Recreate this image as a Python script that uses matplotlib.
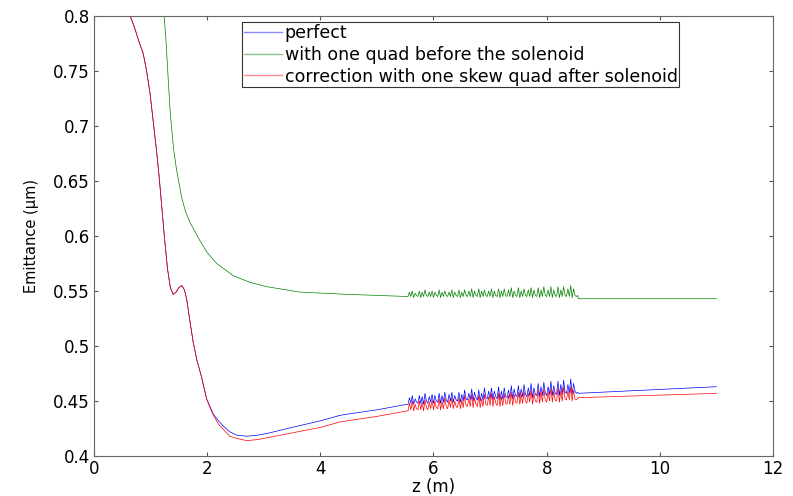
import matplotlib
matplotlib.use('Agg')
import matplotlib.pyplot as plt
import numpy as np

plt.rcParams['font.family'] = ['DejaVu Sans']

# smooth parts (z in m, emittance in um)
blue_z = [0.64, 0.72, 0.80, 0.87, 0.93, 0.99, 1.05, 1.10, 1.15, 1.20, 1.25, 1.30, 1.35, 1.40, 1.45,
          1.50, 1.55, 1.60, 1.64, 1.70, 1.755, 1.82, 1.90, 1.99, 2.05, 2.11, 2.20, 2.29, 2.40, 2.52,
          2.70, 2.90, 3.10, 3.50, 4.00, 4.35, 4.47, 5.00, 5.53]
blue_e = [0.800, 0.789, 0.776, 0.766, 0.750, 0.730, 0.703, 0.680, 0.655, 0.626, 0.596, 0.570, 0.553, 0.547, 0.549,
          0.553, 0.555, 0.551, 0.542, 0.521, 0.503, 0.487, 0.472, 0.452, 0.445, 0.438, 0.432, 0.427, 0.422, 0.419,
          0.418, 0.419, 0.421, 0.426, 0.432, 0.437, 0.438, 0.442, 0.447]
red_z = blue_z
red_e = [0.800, 0.789, 0.776, 0.766, 0.750, 0.730, 0.703, 0.680, 0.655, 0.626, 0.596, 0.570, 0.553, 0.547, 0.549,
         0.553, 0.555, 0.551, 0.542, 0.521, 0.503, 0.487, 0.472, 0.452, 0.444, 0.437, 0.429, 0.424, 0.418, 0.416,
         0.414, 0.415, 0.417, 0.421, 0.426, 0.431, 0.432, 0.436, 0.441]
green_z = [1.24, 1.27, 1.31, 1.34, 1.37, 1.41, 1.46, 1.55, 1.62, 1.70, 1.87, 2.00, 2.17, 2.46, 2.75,
           3.05, 3.64, 4.47, 5.53]
green_e = [0.800, 0.780, 0.745, 0.718, 0.699, 0.678, 0.660, 0.635, 0.622, 0.612, 0.596, 0.585, 0.575, 0.564, 0.558,
           0.554, 0.549, 0.547, 0.545]

# noisy section 5.55 .. 8.55 m, sampled every 0.025 m (one row per bunch of spikes)
noise_z = np.round(np.arange(5.55, 8.551, 0.025), 3)
blue_noise = [
    0.447, 0.453, 0.448, 0.455, 0.447, 0.452, 0.449,
    0.448, 0.455, 0.448, 0.454, 0.447, 0.457, 0.450,
    0.448, 0.454, 0.449, 0.456, 0.448, 0.455, 0.450,
    0.449, 0.457, 0.448, 0.455, 0.449, 0.458, 0.451,
    0.449, 0.456, 0.450, 0.458, 0.449, 0.455, 0.451,
    0.450, 0.458, 0.449, 0.456, 0.450, 0.460, 0.452,
    0.451, 0.457, 0.451, 0.461, 0.450, 0.458, 0.453,
    0.451, 0.460, 0.450, 0.457, 0.451, 0.462, 0.453,
    0.452, 0.459, 0.452, 0.462, 0.451, 0.459, 0.454,
    0.452, 0.463, 0.451, 0.459, 0.452, 0.462, 0.454,
    0.453, 0.460, 0.453, 0.464, 0.452, 0.461, 0.455,
    0.454, 0.464, 0.453, 0.461, 0.454, 0.465, 0.456,
    0.454, 0.462, 0.455, 0.466, 0.453, 0.462, 0.456,
    0.455, 0.466, 0.454, 0.463, 0.455, 0.467, 0.457,
    0.455, 0.463, 0.456, 0.468, 0.455, 0.464, 0.457,
    0.456, 0.468, 0.455, 0.465, 0.456, 0.469, 0.458,
    0.457, 0.465, 0.457, 0.470, 0.456, 0.466, 0.459,
    0.457, 0.458]
red_noise = [
    0.441, 0.448, 0.442, 0.450, 0.441, 0.447, 0.443,
    0.442, 0.450, 0.442, 0.449, 0.441, 0.451, 0.444,
    0.442, 0.449, 0.443, 0.451, 0.442, 0.450, 0.444,
    0.443, 0.452, 0.442, 0.450, 0.443, 0.453, 0.445,
    0.443, 0.451, 0.444, 0.453, 0.443, 0.450, 0.445,
    0.444, 0.453, 0.443, 0.451, 0.444, 0.455, 0.446,
    0.445, 0.452, 0.445, 0.456, 0.444, 0.453, 0.447,
    0.445, 0.455, 0.444, 0.452, 0.445, 0.456, 0.447,
    0.446, 0.454, 0.446, 0.457, 0.445, 0.454, 0.448,
    0.446, 0.457, 0.445, 0.454, 0.446, 0.457, 0.448,
    0.447, 0.455, 0.447, 0.458, 0.446, 0.456, 0.449,
    0.448, 0.458, 0.447, 0.456, 0.448, 0.459, 0.450,
    0.448, 0.457, 0.449, 0.460, 0.447, 0.457, 0.450,
    0.449, 0.460, 0.448, 0.458, 0.449, 0.461, 0.451,
    0.449, 0.458, 0.450, 0.462, 0.449, 0.459, 0.451,
    0.450, 0.462, 0.449, 0.459, 0.450, 0.463, 0.452,
    0.451, 0.459, 0.451, 0.463, 0.450, 0.460, 0.452,
    0.451, 0.452]
green_noise = [
    0.545, 0.549, 0.545, 0.550, 0.544, 0.548, 0.546,
    0.545, 0.550, 0.544, 0.549, 0.545, 0.551, 0.546,
    0.545, 0.549, 0.545, 0.550, 0.544, 0.549, 0.546,
    0.545, 0.551, 0.544, 0.549, 0.545, 0.550, 0.546,
    0.545, 0.549, 0.545, 0.551, 0.544, 0.549, 0.546,
    0.545, 0.551, 0.544, 0.549, 0.545, 0.551, 0.546,
    0.545, 0.550, 0.545, 0.552, 0.544, 0.550, 0.546,
    0.545, 0.552, 0.544, 0.550, 0.545, 0.551, 0.546,
    0.545, 0.550, 0.545, 0.552, 0.544, 0.550, 0.546,
    0.545, 0.552, 0.544, 0.550, 0.545, 0.552, 0.546,
    0.545, 0.551, 0.545, 0.553, 0.544, 0.550, 0.546,
    0.545, 0.553, 0.544, 0.550, 0.545, 0.552, 0.546,
    0.545, 0.551, 0.545, 0.553, 0.544, 0.551, 0.546,
    0.545, 0.553, 0.544, 0.551, 0.545, 0.554, 0.546,
    0.545, 0.551, 0.545, 0.554, 0.544, 0.551, 0.546,
    0.545, 0.554, 0.544, 0.551, 0.545, 0.554, 0.546,
    0.545, 0.552, 0.545, 0.555, 0.544, 0.552, 0.546,
    0.545, 0.546]

# tails after the noisy section
tail_z = [8.56, 11.0]
blue_tail = [0.457, 0.463]
red_tail = [0.453, 0.457]
green_tail = [0.543, 0.543]

labels = ['perfect', 'with one quad before the solenoid',
          'correction with one skew quad after solenoid']


def series(z, e, noise, tail):
    return (np.concatenate([z, noise_z, tail_z]),
            np.concatenate([e, noise, tail]))


fig = plt.figure(figsize=(7.93, 4.96), dpi=100)
ax = fig.add_axes([0.1185, 0.0806, 0.8563, 0.8871])

bz, be = series(blue_z, blue_e, blue_noise, blue_tail)
gz, ge = series(green_z, green_e, green_noise, green_tail)
rz, re = series(red_z, red_e, red_noise, red_tail)
ax.plot(bz, be, color='#0000ff', lw=0.5, label=labels[0])
ax.plot(gz, ge, color='#008000', lw=0.5, label=labels[1])
ax.plot(rz, re, color='#ff0000', lw=0.5, label=labels[2])

ax.set_xlim(0, 12)
ax.set_ylim(0.4, 0.8)
ax.set_xticks(range(0, 13, 2))
yt = [0.4, 0.45, 0.5, 0.55, 0.6, 0.65, 0.7, 0.75, 0.8]
ax.set_yticks(yt)
ax.set_yticklabels([('%g' % v) for v in yt])
ax.tick_params(direction='in', top=True, right=True, length=3, labelsize=12,
               color='#555555', pad=3)
for s in ax.spines.values():
    s.set_color('#666666')
    s.set_linewidth(0.8)
ax.set_xlabel('z (m)', fontsize=12, labelpad=0)
ax.set_ylabel('Emittance (\u03bcm)', fontsize=10.5, labelpad=10)

leg = ax.legend(loc='upper left', bbox_to_anchor=(0.218, 0.986), fontsize=12.5,
                handlelength=2.2, handletextpad=0.15, labelspacing=0.22,
                borderpad=0.1, borderaxespad=0, fancybox=False, frameon=True)
leg.get_frame().set_edgecolor('black')
leg.get_frame().set_linewidth(0.8)
for l in leg.get_lines():
    l.set_alpha(0.45)
    l.set_linewidth(1.0)

fig.savefig('out.png', dpi=100)
